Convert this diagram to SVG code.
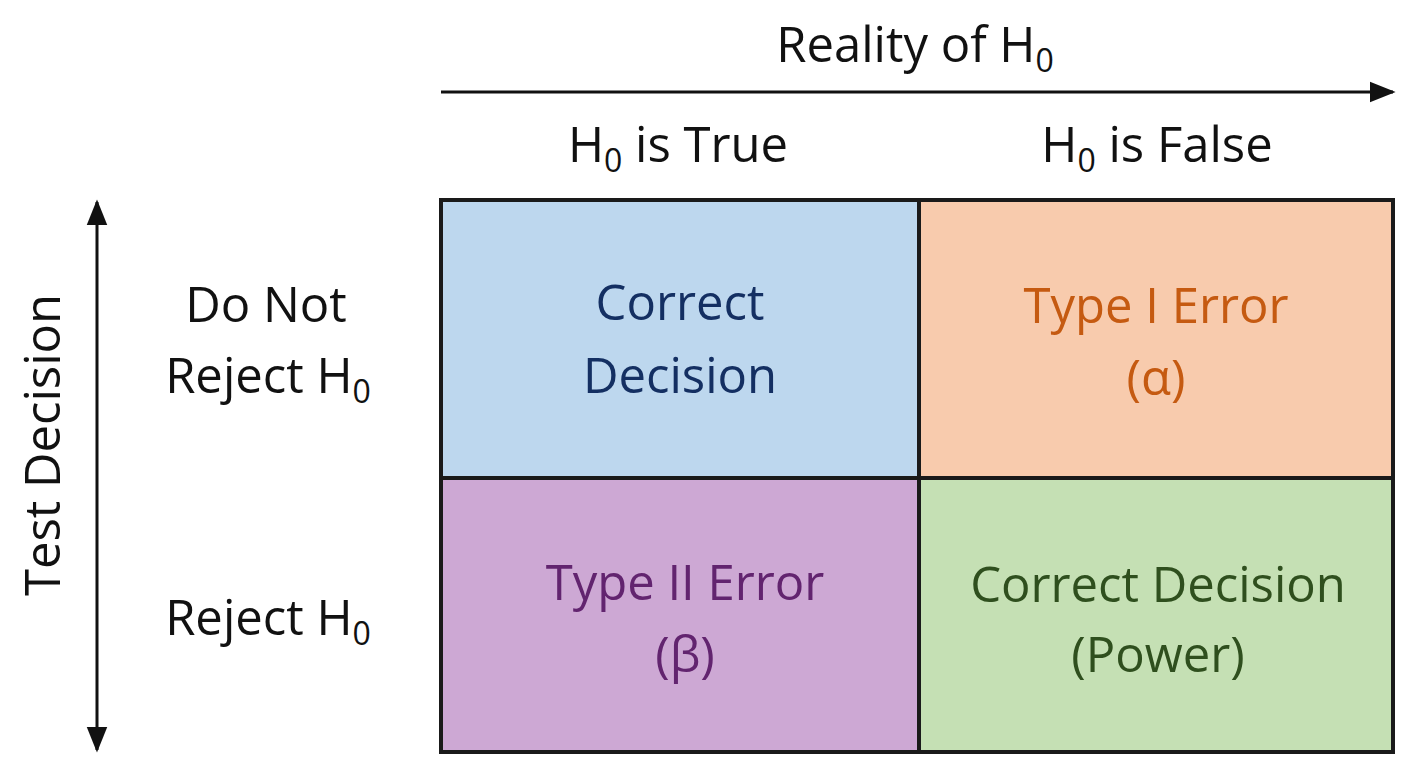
<svg xmlns="http://www.w3.org/2000/svg" width="1408" height="768" viewBox="0 0 1408 768">
<style>
text{font-family:"Open Sans","Liberation Sans",sans-serif;font-size:49px;text-anchor:middle;fill:#111}
.sub{font-size:32px}
.c{stroke:#1a1a1a;stroke-width:4}
</style>
<defs>
<marker id="a" viewBox="0 0 10 10" refX="9" refY="5" markerWidth="26" markerHeight="26" orient="auto-start-reverse" markerUnits="userSpaceOnUse"><path d="M0,1 L10,5 L0,9 z" fill="#111"/></marker>
</defs>
<rect width="1408" height="768" fill="#fff"/>
<g id="connectors">
<line x1="441" y1="92" x2="1393" y2="92" stroke="#111" stroke-width="3" marker-end="url(#a)"/>
<line x1="97" y1="202" x2="97" y2="750" stroke="#111" stroke-width="3" marker-start="url(#a)" marker-end="url(#a)"/>
</g>
<g id="labels">
<text x="915" y="62">Reality of H<tspan class="sub" dy="10">0</tspan></text>
<text x="678" y="162">H<tspan class="sub" dy="10">0</tspan><tspan dy="-10"> is True</tspan></text>
<text x="1157" y="162">H<tspan class="sub" dy="10">0</tspan><tspan dy="-10"> is False</tspan></text>
<text transform="translate(60,445) rotate(-90)">Test Decision</text>
<text x="266" y="322">Do Not</text>
<text x="268" y="393">Reject H<tspan class="sub" dy="10">0</tspan></text>
<text x="268" y="635">Reject H<tspan class="sub" dy="10">0</tspan></text>
</g>
<g id="cell-tl"><rect x="441" y="200" width="478" height="278" fill="#BDD7EE" class="c"/>
<text x="680" y="320" style="fill:#142F62">Correct</text><text x="680" y="393" style="fill:#142F62">Decision</text></g>
<g id="cell-tr"><rect x="919" y="200" width="474" height="278" fill="#F8CBAD" class="c"/>
<text x="1156" y="323" style="fill:#C55A11">Type I Error</text><text x="1156" y="395" style="fill:#C55A11">(α)</text></g>
<g id="cell-bl"><rect x="441" y="478" width="478" height="274" fill="#CDA8D4" class="c"/>
<text x="685" y="600" style="fill:#62246F">Type II Error</text><text x="685" y="672" style="fill:#62246F">(β)</text></g>
<g id="cell-br"><rect x="919" y="478" width="474" height="274" fill="#C5E0B4" class="c"/>
<text x="1158" y="602" style="fill:#2F4F1E">Correct Decision</text><text x="1158" y="672" style="fill:#2F4F1E">(Power)</text></g>
</svg>
